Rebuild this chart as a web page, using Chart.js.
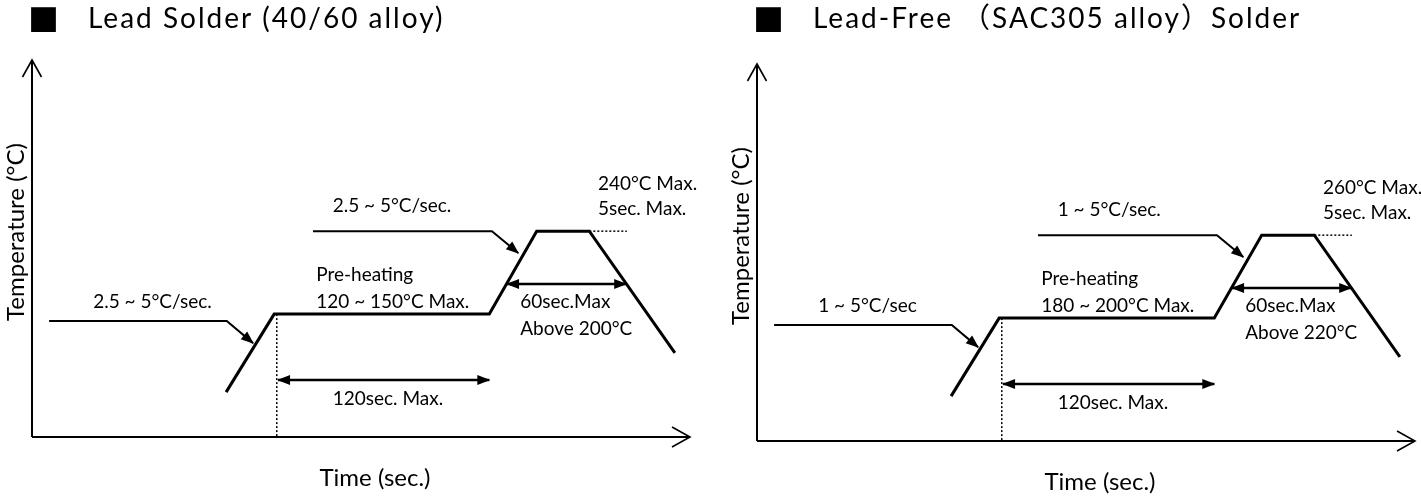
<!DOCTYPE html>
<html>
<head>
<meta charset="utf-8">
<script src="https://cdn.jsdelivr.net/npm/chart.js@4/dist/chart.umd.min.js"></script>
<style>
	body { margin: 0; background: #fff; width: 1421px; height: 498px; overflow: hidden; position: relative; }
	#clearChart { position: absolute; left: 0; top: 0; width: 710px; height: 498px; }
	#clearChart2 { position: absolute; left: 710px; top: 0; width: 711px; height: 498px; }
</style>
</head>
<body>
<div id="clearChart"><canvas id="graficoChumbo"></canvas></div>
<div id="clearChart2"><canvas id="graficoSemChumbo"></canvas></div>
<script>
// perfil de refusao, em unidades do esquema (tempo 0-100, temperatura 0-100)
var tempoPerfil = [29.5, 36.8, 69.5, 76.7, 84.7, 97.7]
var tempPerfil = [11.9, 32.6, 32.6, 54.6, 54.6, 22.3]

// linhas auxiliares
var tempoPontilhadoV = [37.2, 37.2]
var tempPontilhadoV = [32.6, 0]
var tempoPontilhadoPico = [84.7, 90.4]
var tempPontilhadoPico = [54.6, 54.6]
var tempoSetaSubida1 = [2.6, 29.6, 33.6]
var tempSetaSubida1 = [30.8, 30.8, 24.9]
var tempoSetaSubida2 = [42.7, 69.9, 73.9]
var tempSetaSubida2 = [54.6, 54.6, 48.8]
var tempo120 = [37.4, 69.5]
var temp120 = [15.1, 15.1]
var tempo60 = [72.2, 90.3]
var temp60 = [40.6, 40.6]

// textos: [tempo, temperatura] onde cada texto comeca
var tempoTextos = [9.3, 45.7, 43.2, 43.2, 45.7, 74.2, 74.2, 86.0, 86.0]
var tempTextos = [34.2, 59.7, 41.4, 34.2, 8.5, 34.2, 27.1, 65.5, 58.9]

var textosChumbo = ['2.5 ~ 5°C/sec.', '2.5 ~ 5°C/sec.', 'Pre-heating', '120 ~ 150°C Max.',
	'120sec. Max.', '60sec.Max', 'Above 200°C', '240°C Max.', '5sec. Max.']
var textosSemChumbo = ['1 ~ 5°C/sec', '1 ~ 5°C/sec.', 'Pre-heating', '180 ~ 200°C Max.',
	'120sec. Max.', '60sec.Max', 'Above 220°C', '260°C Max.', '5sec. Max.']

var tituloChumbo = 'Lead Solder (40/60 alloy)'
var tituloSemChumbo = 'Lead-Free （SAC305 alloy）Solder'
var tituloEixoX = 'Time (sec.)'
var tituloEixoY = 'Temperature (°C)'

function juntaPontos(xs, ys) {
	var pts = []
	for (var i = 0; i < xs.length; i++) pts.push({ x: xs[i], y: ys[i] })
	return pts
}

function ponta(ctx, x0, y0, x1, y1) {
	var ang = Math.atan2(y1 - y0, x1 - x0)
	ctx.save()
	ctx.translate(x1, y1)
	ctx.rotate(ang)
	ctx.beginPath()
	ctx.moveTo(1, 0)
	ctx.lineTo(-12, -5)
	ctx.lineTo(-12, 5)
	ctx.closePath()
	ctx.fill()
	ctx.restore()
}

function criaGrafico(canvasId, textos, titulo, padding) {
	var linha = function (xs, ys, largura, extra) {
		var ds = {
			data: juntaPontos(xs, ys),
			showLine: true,
			borderColor: '#000',
			borderWidth: largura,
			pointRadius: 0,
			tension: 0,
			clip: false
		}
		return Object.assign(ds, extra || {})
	}

	var esquema = {
		id: 'esquema',
		afterDatasetsDraw: function (chart) {
			var ctx = chart.ctx
			var ca = chart.chartArea
			var sx = chart.scales.x
			var sy = chart.scales.y
			ctx.save()
			ctx.strokeStyle = '#000'
			ctx.fillStyle = '#000'

			// eixos com setas abertas
			ctx.lineWidth = 2
			ctx.beginPath()
			ctx.moveTo(ca.left, ca.bottom)
			ctx.lineTo(ca.left, ca.top)
			ctx.moveTo(ca.left, ca.bottom)
			ctx.lineTo(ca.right, ca.bottom)
			ctx.stroke()
			ctx.lineWidth = 1.6
			ctx.beginPath()
			ctx.moveTo(ca.left - 9.5, ca.top + 17)
			ctx.lineTo(ca.left, ca.top)
			ctx.lineTo(ca.left + 9.5, ca.top + 17)
			ctx.moveTo(ca.right - 18, ca.bottom - 10)
			ctx.lineTo(ca.right, ca.bottom)
			ctx.lineTo(ca.right - 18, ca.bottom + 10)
			ctx.stroke()

			// pontas de seta
			chart.data.datasets.forEach(function (ds, i) {
				if (!ds.seta) return
				var pts = chart.getDatasetMeta(i).data
				var n = pts.length
				ponta(ctx, pts[n - 2].x, pts[n - 2].y, pts[n - 1].x, pts[n - 1].y)
				if (ds.seta === 'ambos') ponta(ctx, pts[1].x, pts[1].y, pts[0].x, pts[0].y)
			})

			// anotacoes
			ctx.font = '19px Lato, sans-serif'
			ctx.textAlign = 'left'
			ctx.textBaseline = 'alphabetic'
			textos.forEach(function (t, i) {
				ctx.fillText(t, sx.getPixelForValue(tempoTextos[i]), sy.getPixelForValue(tempTextos[i]))
			})

			// titulos dos eixos
			ctx.font = '24px Lato, sans-serif'
			ctx.textAlign = 'center'
			ctx.fillText(tituloEixoX, ca.left + 343, ca.bottom + 49)
			ctx.save()
			ctx.translate(ca.left - 8, ca.top + 172)
			ctx.rotate(-Math.PI / 2)
			ctx.fillText(tituloEixoY, 0, 0)
			ctx.restore()

			// titulo
			ctx.textAlign = 'left'
			ctx.font = '31px "Noto Sans CJK JP"'
			ctx.fillText('■', ca.left - 4, 31)
			ctx.font = '28px Lato, "Noto Sans CJK JP", sans-serif'
			ctx.letterSpacing = '2px'
			ctx.fillText(titulo, ca.left + 56, 28)
			ctx.restore()
		}
	}

	var configChart = {
		type: 'scatter',
		data: {
			datasets: [
				linha(tempoPerfil, tempPerfil, 3),
				linha(tempoPontilhadoV, tempPontilhadoV, 1.5, { borderDash: [2, 2] }),
				linha(tempoPontilhadoPico, tempPontilhadoPico, 1.5, { borderDash: [2, 2] }),
				linha(tempoSetaSubida1, tempSetaSubida1, 2, { seta: 'fim' }),
				linha(tempoSetaSubida2, tempSetaSubida2, 2, { seta: 'fim' }),
				linha(tempo120, temp120, 2.5, { seta: 'ambos' }),
				linha(tempo60, temp60, 2.5, { seta: 'ambos' }),
			]
		},
		options: {
			responsive: true,
			maintainAspectRatio: false,
			animation: false,
			layout: { padding: padding },
			scales: {
				x: { type: 'linear', min: 0, max: 100, display: false },
				y: { type: 'linear', min: 0, max: 100, display: false }
			},
			plugins: {
				legend: { display: false },
				tooltip: { enabled: false },
				title: { display: false }
			}
		},
		plugins: [esquema]
	}

	var ctx = document.getElementById(canvasId).getContext('2d')
	return new Chart(ctx, configChart)
}

criaGrafico('graficoChumbo', textosChumbo, tituloChumbo, { left: 32, right: 20, top: 60, bottom: 61 })
criaGrafico('graficoSemChumbo', textosSemChumbo, tituloSemChumbo, { left: 47, right: 6, top: 64, bottom: 57 })
</script>
</body>
</html>
